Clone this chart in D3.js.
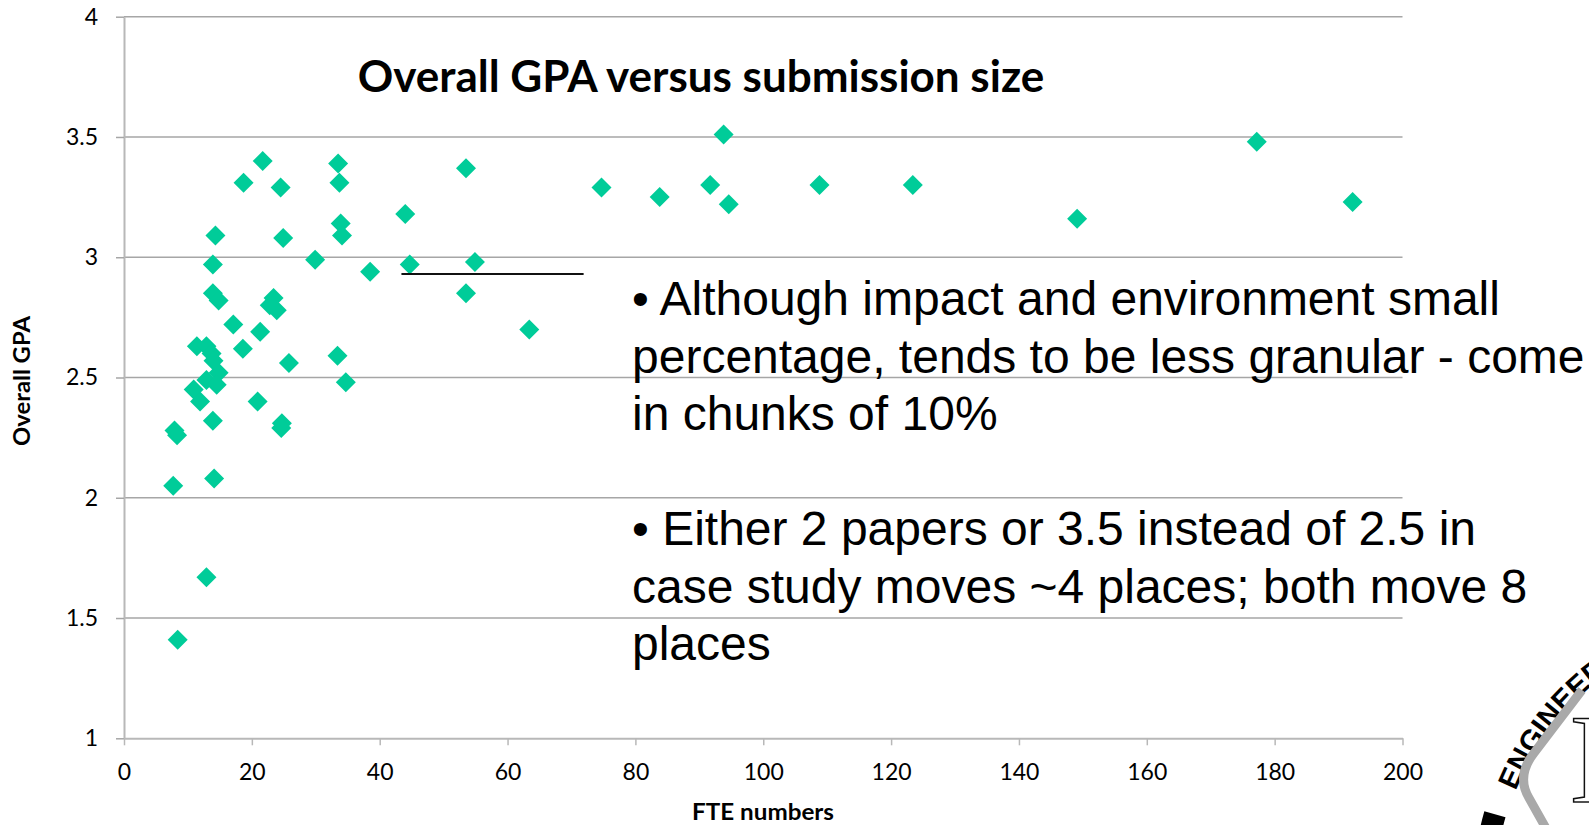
<!DOCTYPE html>
<html><head><meta charset="utf-8">
<script src="https://cdn.jsdelivr.net/npm/d3@7"></script>
<style>body{margin:0;background:#fff;overflow:hidden}svg{display:block}</style>
</head><body>
<svg id="chart" width="1589" height="825"></svg>
<script>
// ---- data ----
const fteValues = [21.7,18.7,24.5,33.5,33.7,14.3,24.9,33.9,34.1,13.9,29.9,13.9,14.8,23.4,22.8,23.9,17.1,21.3,
  11.4,12.9,13.7,14.0,18.6,25.8,33.4,34.7,14.8,12.9,14.5,10.9,11.9,20.9,13.9,24.7,24.6,7.9,8.3,7.7,14.1,12.9,8.4,
  53.5,74.7,44.0,38.5,44.7,54.9,53.5,63.4,83.8,91.7,93.8,94.6,108.8,123.4,149.1,177.2,192.2];
const gpaValues = [3.40,3.31,3.29,3.39,3.31,3.09,3.08,3.14,3.09,2.97,2.99,2.85,2.82,2.83,2.80,2.78,2.72,2.69,
  2.63,2.63,2.60,2.57,2.62,2.56,2.59,2.48,2.52,2.49,2.47,2.45,2.40,2.40,2.32,2.31,2.29,2.28,2.26,2.05,2.08,1.67,1.41,
  3.37,3.29,3.18,2.94,2.97,2.98,2.85,2.70,3.25,3.30,3.51,3.22,3.30,3.30,3.16,3.48,3.23];
const xTicks = [0,20,40,60,80,100,120,140,160,180,200];
const yTicks = [1,1.5,2,2.5,3,3.5,4];
const refLineX = [43.4, 71.9];
const refLineY = 2.93;
const chartTitle = "Overall GPA versus submission size";
const xTitle = "FTE numbers";
const yTitle = "Overall GPA";
const noteParagraphs = [
  ["• Although impact and environment small", "percentage, tends to be less granular - come", "in chunks of 10%"],
  ["• Either 2 papers or 3.5 instead of 2.5 in", "case study moves ~4 places; both move 8", "places"]
];

const points = fteValues.map((v, i) => ({x: v, y: gpaValues[i]}));

const svg = d3.select("#chart");
const x = d3.scaleLinear().domain([0, 200]).range([124, 1402.5]);
const y = d3.scaleLinear().domain([1, 4]).range([738.3, 16.7]);

const labelFont = "Lato, 'Open Sans', sans-serif";

// gridlines
svg.append("g").selectAll("line").data(yTicks.filter(t => t > 1)).join("line")
  .attr("x1", x(0)).attr("x2", x(200))
  .attr("y1", d => y(d)).attr("y2", d => y(d))
  .attr("stroke", "#a6a6a6").attr("stroke-width", 1.5);

// y axis
const yAxis = svg.append("g").attr("transform", `translate(${x(0)},0)`)
  .call(d3.axisLeft(y).tickValues(yTicks).tickSize(8).tickSizeOuter(0).tickPadding(18)
    .tickFormat(d3.format("")));
yAxis.select(".domain").attr("stroke", "#b8b8b8").attr("stroke-width", 2);
yAxis.selectAll(".tick line").attr("stroke", "#a6a6a6").attr("stroke-width", 1.5);
yAxis.selectAll("text").attr("font-family", labelFont).attr("font-size", 23).attr("fill", "#000");

// x axis
const xAxis = svg.append("g").attr("transform", `translate(0,${y(1)})`)
  .call(d3.axisBottom(x).tickValues(xTicks).tickSize(7).tickSizeOuter(0).tickPadding(18));
xAxis.select(".domain").attr("stroke", "#b8b8b8").attr("stroke-width", 2);
xAxis.selectAll(".tick line").attr("stroke", "#b8b8b8").attr("stroke-width", 1.5);
xAxis.selectAll("text").attr("font-family", labelFont).attr("font-size", 23).attr("fill", "#000");

// axis titles
svg.append("text").attr("x", 763).attr("y", 820).attr("text-anchor", "middle")
  .attr("font-family", labelFont).attr("font-weight", "bold").attr("font-size", 22)
  .attr("textLength", 142).attr("lengthAdjust", "spacingAndGlyphs").text(xTitle);
svg.append("text").attr("transform", "translate(30,381) rotate(-90)").attr("text-anchor", "middle")
  .attr("font-family", labelFont).attr("font-weight", "bold").attr("font-size", 23)
  .attr("textLength", 130).attr("lengthAdjust", "spacingAndGlyphs").text(yTitle);

// chart title
svg.append("text").attr("x", 701).attr("y", 92).attr("text-anchor", "middle")
  .attr("font-family", labelFont).attr("font-weight", "bold").attr("font-size", 44).text(chartTitle);

// points
const diamond = d3.symbol().type(d3.symbolSquare).size(200);
svg.append("g").selectAll("path").data(points).join("path")
  .attr("d", diamond)
  .attr("transform", d => `translate(${x(d.x)},${y(d.y)}) rotate(45)`)
  .attr("fill", "#00cc99");

// reference line
svg.append("line").attr("x1", x(refLineX[0])).attr("x2", x(refLineX[1]))
  .attr("y1", y(refLineY)).attr("y2", y(refLineY))
  .attr("stroke", "#111").attr("stroke-width", 2);

// notes
const lineH = 57.5;
const notesG = svg.append("g").attr("font-family", "'Liberation Sans', Arial, sans-serif")
  .attr("font-size", 48).attr("fill", "#000");
let baseline = 315;
noteParagraphs.forEach(par => {
  par.forEach(l => {
    notesG.append("text").attr("x", 632).attr("y", baseline).text(l);
    baseline += lineH;
  });
  baseline += lineH;
});

// logo fragment (bottom right)
const cx = 1766, cy = 892, r = 270;
const logo = svg.append("g");
const rad = a => a * Math.PI / 180;
const arcPath = (rr, a0, a1) => {
  const p0 = [cx + rr * Math.cos(rad(a0)), cy + rr * Math.sin(rad(a0))];
  const p1 = [cx + rr * Math.cos(rad(a1)), cy + rr * Math.sin(rad(a1))];
  return `M${p0[0]},${p0[1]} A${rr},${rr} 0 0 1 ${p1[0]},${p1[1]}`;
};
logo.append("defs").append("path").attr("id", "logoArc").attr("d", arcPath(r, 202, 300));
logo.append("text").attr("font-family", "'Liberation Sans', Arial, sans-serif").attr("font-weight", "bold")
  .attr("font-size", 29).attr("fill", "#000")
  .append("textPath").attr("href", "#logoArc").text("ENGINEERING");
logo.append("path").attr("d", arcPath(r + 12, 184, 196)).attr("fill", "none")
  .attr("stroke", "#000").attr("stroke-width", 22);
logo.append("path").attr("d", "M1582,690 L1534,753 Q1516,776 1529,798 L1547,830")
  .attr("fill", "none").attr("stroke", "#a9a9a9").attr("stroke-width", 9).attr("stroke-linejoin", "round");
logo.append("text").attr("x", 1569).attr("y", 802).attr("font-family", "'Liberation Serif', serif")
  .attr("font-size", 128).attr("fill", "none").attr("stroke", "#111").attr("stroke-width", 1.5).text("I");
</script>
</body></html>
